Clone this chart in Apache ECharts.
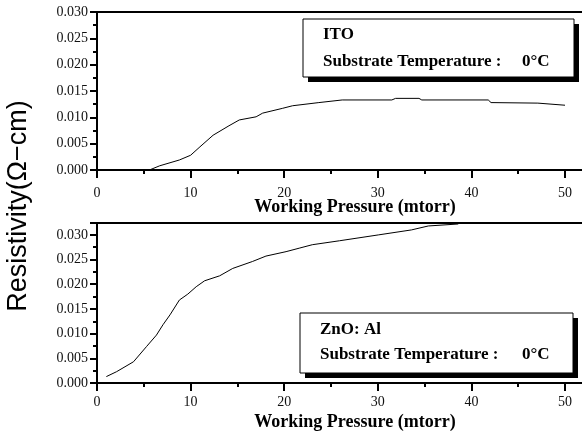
<!DOCTYPE html>
<html>
<head>
<meta charset="utf-8">
<script src="https://cdn.jsdelivr.net/npm/echarts@6/dist/echarts.min.js"></script>
<style>html,body{margin:0;padding:0;background:#fff}#c{width:582px;height:434px}</style>
</head>
<body>
<div id="c"></div>
<script>
// ITO (top panel)
var itoX = [5.6, 6.7, 8.8, 10.0, 11.0, 12.4, 14.1, 15.2, 17.0, 17.7, 19.8, 20.9, 23.7, 26.2, 31.5, 31.9, 34.4, 34.7, 41.8, 42.1, 47.1, 50.0];
var itoY = [0.0000, 0.0008, 0.0019, 0.0028, 0.0044, 0.0066, 0.0084, 0.0095, 0.0101, 0.0108, 0.0117, 0.0122, 0.0128, 0.0133, 0.0133, 0.0136, 0.0136, 0.0133, 0.0133, 0.0128, 0.0127, 0.0123];
// ZnO:Al (bottom panel)
var znoX = [1.0, 2.1, 3.9, 5.3, 6.35, 7.05, 7.8, 8.8, 9.7, 10.6, 11.5, 13.1, 14.5, 16.6, 18.05, 20.2, 21.6, 23.0, 25.9, 30.1, 33.6, 35.4, 38.6];
var znoY = [0.0013, 0.0023, 0.0043, 0.0074, 0.0097, 0.0118, 0.0138, 0.0168, 0.0180, 0.0195, 0.0207, 0.0217, 0.0232, 0.0246, 0.0257, 0.0266, 0.0273, 0.0280, 0.0288, 0.0300, 0.0310, 0.0318, 0.0322];

var xTickStep = 10;
var yTickStep = 0.005;
var xAxisTitle = 'Working Pressure (mtorr)';
var yAxisTitle = 'Resistivity(Ω−cm)';
var topBoxTitle = 'ITO';
var bottomBoxTitle = 'ZnO: Al';
var tempLabel = 'Substrate Temperature :';
var tempValue = '0°C';

function pairs(xs, ys) { return xs.map(function (x, i) { return [x, ys[i]]; }); }

var serif = 'Liberation Serif';
function bottomX(gi, margin) {
  return {
    type: 'value', gridIndex: gi, position: 'bottom', min: 0, max: 60, interval: xTickStep,
    axisLine: { show: true, onZero: false, lineStyle: { color: '#000', width: 2 } },
    axisTick: { show: true, inside: false, length: 8, lineStyle: { color: '#000', width: 2 } },
    minorTick: { show: true, splitNumber: 2, length: 4, lineStyle: { color: '#000', width: 2 } },
    splitLine: { show: false },
    axisLabel: { show: true, margin: margin, fontFamily: serif, fontSize: 14, color: '#111',
      formatter: function (v) { return v <= 50 ? String(v) : ''; } }
  };
}
function topX(gi) {
  return {
    type: 'value', gridIndex: gi, position: 'top', min: 0, max: 60,
    axisLine: { show: true, onZero: false, lineStyle: { color: '#000', width: 2 } },
    axisTick: { show: false }, axisLabel: { show: false }, splitLine: { show: false }
  };
}
function leftY(gi, max) {
  return {
    type: 'value', gridIndex: gi, min: 0, max: max, interval: yTickStep,
    axisLine: { show: true, onZero: false, lineStyle: { color: '#000', width: 2 } },
    axisTick: { show: true, inside: false, length: 7, lineStyle: { color: '#000', width: 2 } },
    minorTick: { show: true, splitNumber: 2, length: 4, lineStyle: { color: '#000', width: 2 } },
    splitLine: { show: false },
    axisLabel: { show: true, margin: 9, fontFamily: serif, fontSize: 14, color: '#111',
      formatter: function (v) {
        var k = v / yTickStep;
        return Math.abs(k - Math.round(k)) < 1e-6 ? v.toFixed(3) : '';
      } }
  };
}

function box(x, y, w, h, title, ty1, ty2) {
  return {
    type: 'group', children: [
      { type: 'rect', shape: { x: x + 5, y: y + 5, width: w, height: h }, style: { fill: '#000' } },
      { type: 'rect', shape: { x: x, y: y, width: w, height: h }, style: { fill: '#fff', stroke: '#000', lineWidth: 1 } },
      { type: 'text', x: x + 20, y: ty1, style: { text: title, font: 'bold 17px "Liberation Serif"', fill: '#000', verticalAlign: 'middle' } },
      { type: 'text', x: x + 20, y: ty2, style: { text: tempLabel, font: 'bold 17px "Liberation Serif"', fill: '#000', verticalAlign: 'middle' } },
      { type: 'text', x: 522, y: ty2, style: { text: tempValue, font: 'bold 17px "Liberation Serif"', fill: '#000', verticalAlign: 'middle' } }
    ]
  };
}

var chart = echarts.init(document.getElementById('c'), null, { renderer: 'canvas' });
chart.setOption({
  animation: false,
  backgroundColor: '#fff',
  grid: [
    { left: 97, top: 12, right: -76.6, height: 158, outerBoundsMode: 'none', containLabel: false },
    { left: 97, top: 223, right: -76.6, height: 160, outerBoundsMode: 'none', containLabel: false }
  ],
  xAxis: [bottomX(0, 16), topX(0), bottomX(1, 12), topX(1)],
  yAxis: [leftY(0, 0.030), leftY(1, 0.0324)],
  series: [
    { type: 'line', xAxisIndex: 0, yAxisIndex: 0, data: pairs(itoX, itoY), showSymbol: false, clip: true,
      lineStyle: { color: '#000', width: 1 } },
    { type: 'line', xAxisIndex: 2, yAxisIndex: 1, data: pairs(znoX, znoY), showSymbol: false, clip: true,
      lineStyle: { color: '#000', width: 1 } }
  ],
  graphic: [
    { type: 'text', x: 355, y: 207, style: { text: xAxisTitle, font: 'bold 18px "Liberation Serif"', fill: '#000', align: 'center', verticalAlign: 'middle' } },
    { type: 'text', x: 355, y: 422, style: { text: xAxisTitle, font: 'bold 18px "Liberation Serif"', fill: '#000', align: 'center', verticalAlign: 'middle' } },
    { type: 'text', x: 19, y: 206, rotation: Math.PI / 2, style: { text: yAxisTitle, font: '27px "Liberation Sans"', fill: '#000', align: 'center', verticalAlign: 'middle' } },
    box(303, 19, 271, 58, topBoxTitle, 35, 62),
    box(300, 313, 273, 60, bottomBoxTitle, 330, 355)
  ]
});
</script>
</body>
</html>
